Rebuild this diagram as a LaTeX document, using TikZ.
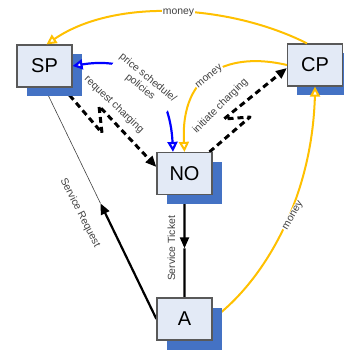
\documentclass[tikz,border=0pt]{standalone}
\usepackage{fontspec}
\setmainfont{Liberation Sans}
\usetikzlibrary{arrows.meta,calc}
\pgfdeclarelayer{behind}
\pgfdeclarelayer{front}
\pgfsetlayers{behind,main,front}
\definecolor{boxfill}{RGB}{227,234,246}
\definecolor{boxline}{RGB}{89,89,89}
\definecolor{shade}{RGB}{68,114,196}
\definecolor{gold}{RGB}{255,192,0}
\definecolor{labeltext}{RGB}{64,64,64}
\tikzset{
  openhead/.tip={Triangle[fill=white,length=10pt,width=10pt]},
  fullhead/.tip={Triangle[length=11pt,width=9pt]},
}
\begin{document}
\begin{tikzpicture}[x=1pt,y=-1pt,
  entity/.style={draw=boxline, line width=1.2pt, fill=boxfill,
    minimum width=55pt, minimum height=42pt, inner sep=0pt,
    font=\fontsize{20}{24}\selectfont},
  shadowbox/.style={fill=shade, minimum width=55pt, minimum height=42pt, inner sep=0pt},
  money/.style={draw=gold, line width=2pt},
  policy/.style={draw=blue, line width=2.2pt},
  flow/.style={draw=black, line width=2.2pt},
  thinrule/.style={draw=black!75, line width=0.6pt},
  charge/.style={draw=black, line width=3pt, dash pattern=on 6pt off 4pt, line join=round},
  tag/.style={text=labeltext, inner sep=1pt, font=\fontsize{10.4}{11.7}\selectfont},
]
\useasboundingbox (0,0) rectangle (344,352);

% drop shadows of the four parties
\node[shadowbox] (SPs) at (54,75.5) {};
\node[shadowbox] (CPs) at (324.5,74.5) {};
\node[shadowbox] (NOs) at (194,183) {};
\node[shadowbox] (As) at (194,328.5) {};

% the parties
\node[entity] (SP) at (44.5,66) {SP};
\node[entity] (CP) at (315,65) {CP};
\node[entity] (NO) at (184.5,173.5) {NO};
\node[entity] (A) at (184.5,319) {A};

\coordinate (SRmid) at ($(A.west)!0.5!(SP.south)$);
\coordinate (STmid) at ($(NO.south)!0.52!(A.north)$);

% connectors that pass under the boxes
\begin{pgfonlayer}{behind}
  \draw[thinrule] (SRmid) -- (SP.south);
  \draw[flow, -fullhead] (A.west) -- (SRmid);
  \draw[flow, -fullhead] (NO.south) -- (STmid);
  \draw[flow] (STmid) -- (A.north);
  \draw[charge, -fullhead] (SP) -- (102,133) -- (99,106) -- ([yshift=6.5pt]NO.west);
  \draw[charge, -fullhead] (NO) -- (250,117) -- (224,119) -- ([yshift=-3pt]CP.west);
  \draw[money] (A.east) .. controls (264,281) and (315,196) .. (CP.south);
\end{pgfonlayer}

% connectors drawn over the boxes, and the labels
\begin{pgfonlayer}{front}
  \draw[money, -openhead] ([yshift=-14pt]CP.south) -- (CP.south);
  \draw[money, -openhead] ([xshift=-8pt]CP.north) .. controls (231,5) and (116,-3) .. ([xshift=2pt]SP.north);
  \draw[money, -openhead] (CP.west) .. controls (232,52) and (180,70) .. (NO.north);
  \draw[policy, openhead-openhead] (SP.east) .. controls (140,55) and (170,90) .. ([xshift=-11.5pt]NO.north);

  \node[tag, fill=white] (m1) at (178.5,12.5) {money};
  \node[tag, fill=white, rotate=-39.5, align=center] (psp) at (144,82.5) {price schedule/\\policies};
  \node[tag, fill=white, rotate=39] (m2) at (209.5,77) {money};
  \node[tag, fill=white, rotate=60] (m3) at (293.5,216) {money};
  \node[tag, rotate=-43.5] (rc) at (114,104.5) {request charging};
  \node[tag, rotate=45] (ic) at (220.5,106) {initiate charging};
  \node[tag, rotate=-63] (sr) at (80,213) {Service Request};
  \node[tag, rotate=90] (st) at (171.5,248.5) {Service Ticket};
\end{pgfonlayer}
\end{tikzpicture}
\end{document}
